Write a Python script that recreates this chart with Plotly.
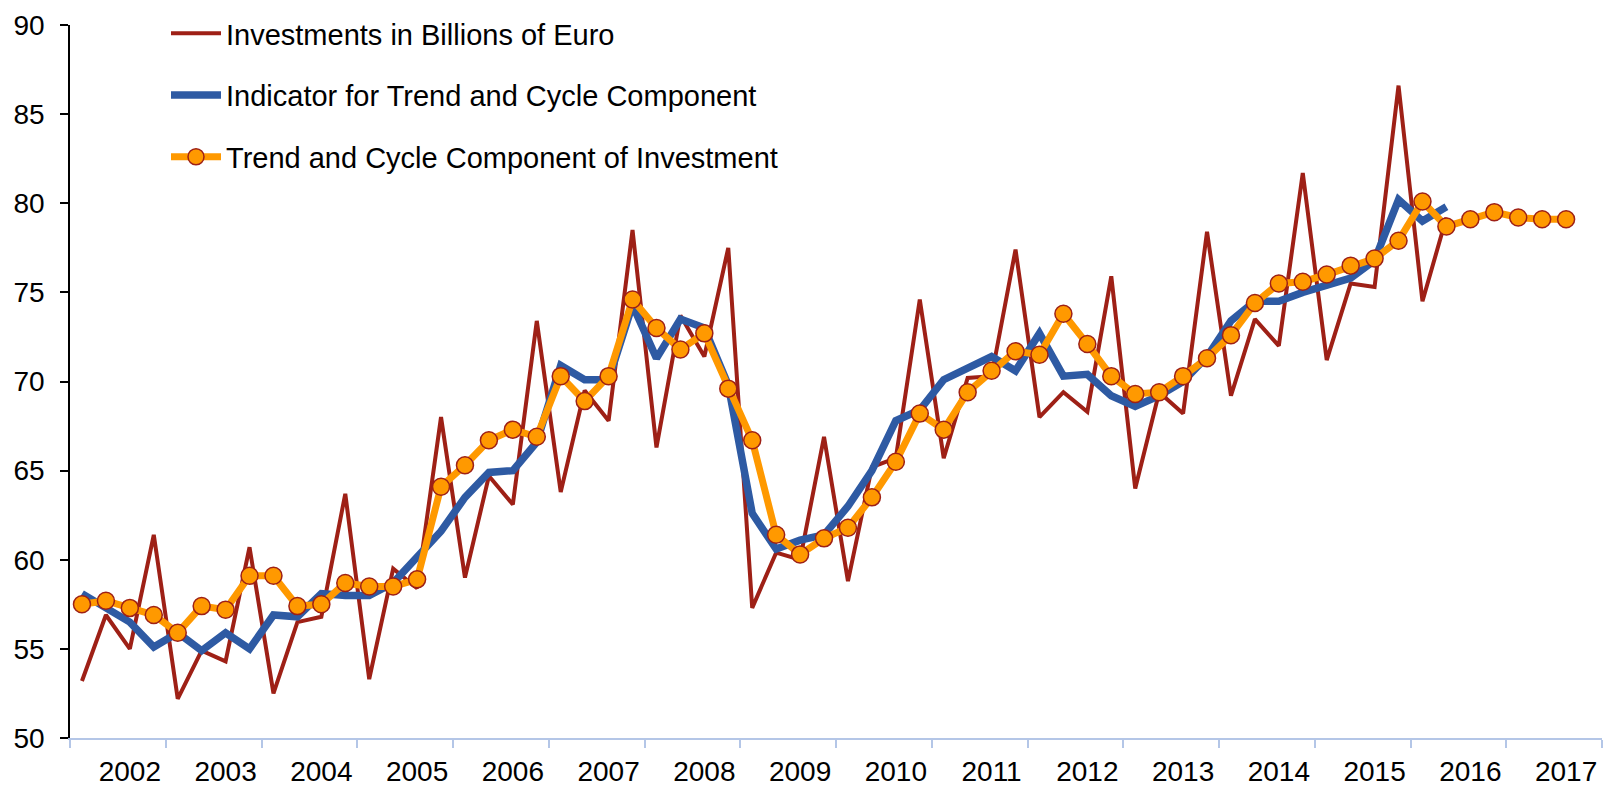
import plotly.graph_objects as go

years = list(range(2002, 2018))
quarters = [1, 2, 3, 4]

investment = [
    53.2, 56.9, 55.0, 61.4,
    52.2, 54.9, 54.3, 60.7,
    52.5, 56.5, 56.8, 63.7,
    53.3, 59.5, 58.4, 68.0,
    59.0, 64.7, 63.1, 73.4,
    63.8, 69.5, 67.8, 78.5,
    66.3, 73.7, 71.4, 77.5,
    57.3, 60.4, 60.0, 66.9,
    58.8, 65.2, 65.7, 74.6,
    65.7, 70.2, 70.3, 77.4,
    68.0, 69.4, 68.3, 75.9,
    64.0, 69.4, 68.2, 78.4,
    69.2, 73.5, 72.0, 81.7,
    71.2, 75.5, 75.3, 86.6,
    74.5, 79.2,
]

indicator = [
    58.1, 57.3, 56.5, 55.1,
    55.9, 54.9, 55.9, 55.0,
    56.9, 56.8, 58.1, 58.0,
    58.0, 58.7, 60.1, 61.6,
    63.5, 64.9, 65.0, 66.6,
    70.9, 70.1, 70.1, 74.3,
    71.3, 73.5, 73.0, 69.8,
    62.6, 60.6, 61.1, 61.4,
    63.0, 65.0, 67.8, 68.4,
    70.1, 70.7, 71.4, 70.6,
    72.7, 70.3, 70.4, 69.2,
    68.6, 69.2, 70.0, 71.4,
    73.4, 74.5, 74.5, 75.0,
    75.4, 75.8, 76.8, 80.2,
    79.0, 79.8,
]

trend = [
    57.5, 57.7, 57.3, 56.9,
    55.9, 57.4, 57.2, 59.1,
    59.1, 57.4, 57.5, 58.7,
    58.5, 58.5, 58.9, 64.1,
    65.3, 66.7, 67.3, 66.9,
    70.3, 68.9, 70.3, 74.6,
    73.0, 71.8, 72.7, 69.6,
    66.7, 61.4, 60.3, 61.2,
    61.8, 63.5, 65.5, 68.2,
    67.3, 69.4, 70.6, 71.7,
    71.5, 73.8, 72.1, 70.3,
    69.3, 69.4, 70.3, 71.3,
    72.6, 74.4, 75.5, 75.6,
    76.0, 76.5, 76.9, 77.9,
    80.1, 78.7, 79.1, 79.5,
    79.2, 79.1, 79.1,
]

# quarter mid-points in decimal years
x_all = [y + (q - 0.5) / 4 for y in years for q in quarters]

RED = "#9E2016"
BLUE = "#2E5AA3"
ORANGE = "#FF9900"
AXIS_BLUE = "#B4C6E7"
FONT = "Liberation Sans, Arial, sans-serif"

fig = go.Figure()
fig.add_trace(go.Scatter(
    x=x_all[:len(investment)], y=investment, mode="lines",
    name="Investments in Billions of Euro", legendgroup="a",
    line=dict(color=RED, width=4),
))
fig.add_trace(go.Scatter(
    x=x_all[:len(indicator)], y=indicator, mode="lines",
    name="Indicator for Trend and Cycle Component", legendgroup="b",
    line=dict(color=BLUE, width=7.5),
))
fig.add_trace(go.Scatter(
    x=x_all[:len(trend)], y=trend, mode="lines+markers",
    name="Trend and Cycle Component of Investment", legendgroup="c",
    line=dict(color=ORANGE, width=7),
    marker=dict(size=17, color=ORANGE, line=dict(color=RED, width=1.5)),
))

fig.update_layout(
    width=1612, height=785,
    template="none",
    paper_bgcolor="white", plot_bgcolor="white",
    margin=dict(l=62, r=18, t=17, b=55, autoexpand=False),
    font=dict(family=FONT, size=28, color="black"),
    showlegend=True,
    legend=dict(
        xref="container", yref="container",
        x=158 / 1612, y=1.0, xanchor="left", yanchor="top",
        bgcolor="rgba(0,0,0,0)", borderwidth=0,
        font=dict(family=FONT, size=29, color="black"),
        tracegroupgap=21, itemwidth=50,
    ),
    xaxis=dict(
        range=[2002, 2018], automargin=False,
        tickmode="array",
        tickvals=[y + 0.625 for y in years],
        ticktext=[str(y) for y in years],
        ticks="outside", ticklen=5, tickcolor="rgba(0,0,0,0)",
        ticklabelstandoff=3, ticklabeloverflow="allow",
        showline=True, linecolor=AXIS_BLUE, linewidth=1.5,
        showgrid=False, zeroline=False,
        minor=dict(tickmode="array", tickvals=list(range(2002, 2019)),
                   ticks="outside", ticklen=8, tickcolor=AXIS_BLUE, tickwidth=1.5,
                   showgrid=False),
        tickfont=dict(family=FONT, size=28, color="black"),
    ),
    yaxis=dict(
        range=[50, 90], automargin=False,
        tickmode="linear", tick0=50, dtick=5,
        ticks="outside", ticklen=8, tickcolor="black", tickwidth=1.5,
        ticklabelstandoff=10, ticklabeloverflow="allow",
        showline=True, linecolor="black", linewidth=1.5,
        showgrid=False, zeroline=False,
        tickfont=dict(family=FONT, size=28, color="black"),
    ),
)

fig.write_html("out.html")
